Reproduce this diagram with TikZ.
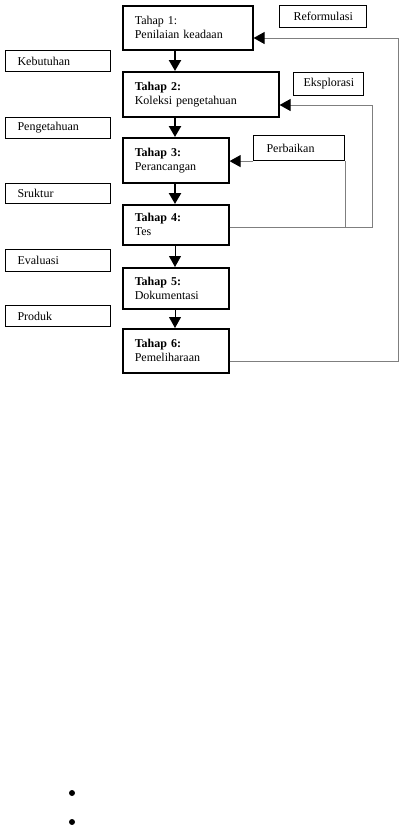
\documentclass[tikz,border=0pt]{standalone}
\usepackage{fontspec}
\setmainfont{Liberation Serif}
\usetikzlibrary{arrows.meta,calc}
\definecolor{linegrey}{HTML}{7F7F7F}

\begin{document}
\begin{tikzpicture}[x=1pt, y=-1pt,
  tahap/.style={draw, line width=1.6pt, anchor=north west, align=left, inner xsep=12pt,
                inner ysep=0pt, font=\fontsize{12}{14}\selectfont},
  lbl/.style={draw, line width=1.1pt, anchor=north west, align=left, inner xsep=12pt,
              inner ysep=0pt, font=\fontsize{12}{14}\selectfont},
  flow/.style={-{Triangle[length=11pt,width=12pt]}, line width=2.4pt},
  flowthin/.style={-{Triangle[length=11pt,width=12pt]}, line width=0.9pt},
  fb/.style={draw=linegrey, line width=0.9pt, -{Triangle[length=11pt,width=12pt,color=black]}},
  fbline/.style={draw=linegrey, line width=0.9pt},
  dot/.style={circle, fill, inner sep=0pt, minimum size=6pt}]
\useasboundingbox (0,0) rectangle (403,825);
% tahap
\node[tahap, text width=106pt, minimum height=44pt] (t1) at (122,5) {Tahap 1:\\Penilaian keadaan};
\node[tahap, text width=132pt, minimum height=45pt] (t2) at (122,71) {\textbf{Tahap 2:}\\Koleksi pengetahuan};
\node[tahap, text width=82pt, minimum height=45pt] (t3) at (122,137) {\textbf{Tahap 3:}\\Perancangan};
\node[tahap, text width=82pt, minimum height=40pt] (t4) at (122,204) {\textbf{Tahap 4:}\\Tes};
\node[tahap, text width=82pt, minimum height=41pt] (t5) at (122,267) {\textbf{Tahap 5:}\\Dokumentasi};
\node[tahap, text width=82pt, minimum height=44pt] (t6) at (122,328) {\textbf{Tahap 6:}\\Pemeliharaan};
% hasil di kiri
\node[lbl, text width=81pt, minimum height=21pt] (keb) at (5,50) {Kebutuhan};
\node[lbl, text width=81pt, minimum height=21pt] (peng) at (5,117) {Pengetahuan};
\node[lbl, text width=81pt, minimum height=20pt] (sruk) at (5,183) {Sruktur};
\node[lbl, text width=81pt, minimum height=22pt] (eval) at (5,249) {Evaluasi};
\node[lbl, text width=81pt, minimum height=21pt] (prod) at (5,305) {Produk};
% umpan balik
\node[lbl, text width=59pt, inner xsep=14pt, minimum height=22pt] (reform) at (279,5) {Reformulasi};
\node[lbl, text width=50pt, inner xsep=10pt, minimum height=23pt] (eks) at (293,72) {Eksplorasi};
\node[lbl, text width=65pt, inner xsep=13pt, minimum height=25pt] (perb) at (253,135) {Perbaikan};
\coordinate (ax) at (175,0);
\draw[flow] (t1.south -| ax) -- (t2.north -| ax);
\draw[flow] (t2.south -| ax) -- (t3.north -| ax);
\draw[flow] (t3.south -| ax) -- (t4.north -| ax);
\draw[flowthin] (t4.south -| ax) -- (t5.north -| ax);
\draw[flowthin] (t5.south -| ax) -- (t6.north -| ax);
\coordinate (ret) at (398,38);
\coordinate (t6r) at ([yshift=-11pt]t6.east);
\draw[fb] (t6r) -| (ret) -- (t1.east |- ret);
\coordinate (eksr) at (372,105);
\coordinate (t4r) at ([yshift=-3pt]t4.east);
\draw[fb] (t4r) -| (eksr) -- (t2.east |- eksr);
\draw[fbline] (t4r -| perb.east) -- (perb.south east);
\draw[fb] (perb.south west) -- (t3.east |- perb.south);
\node[dot] (b1) at (72,793) {};
\node[dot] (b2) at (72,822) {};
\end{tikzpicture}
\end{document}
